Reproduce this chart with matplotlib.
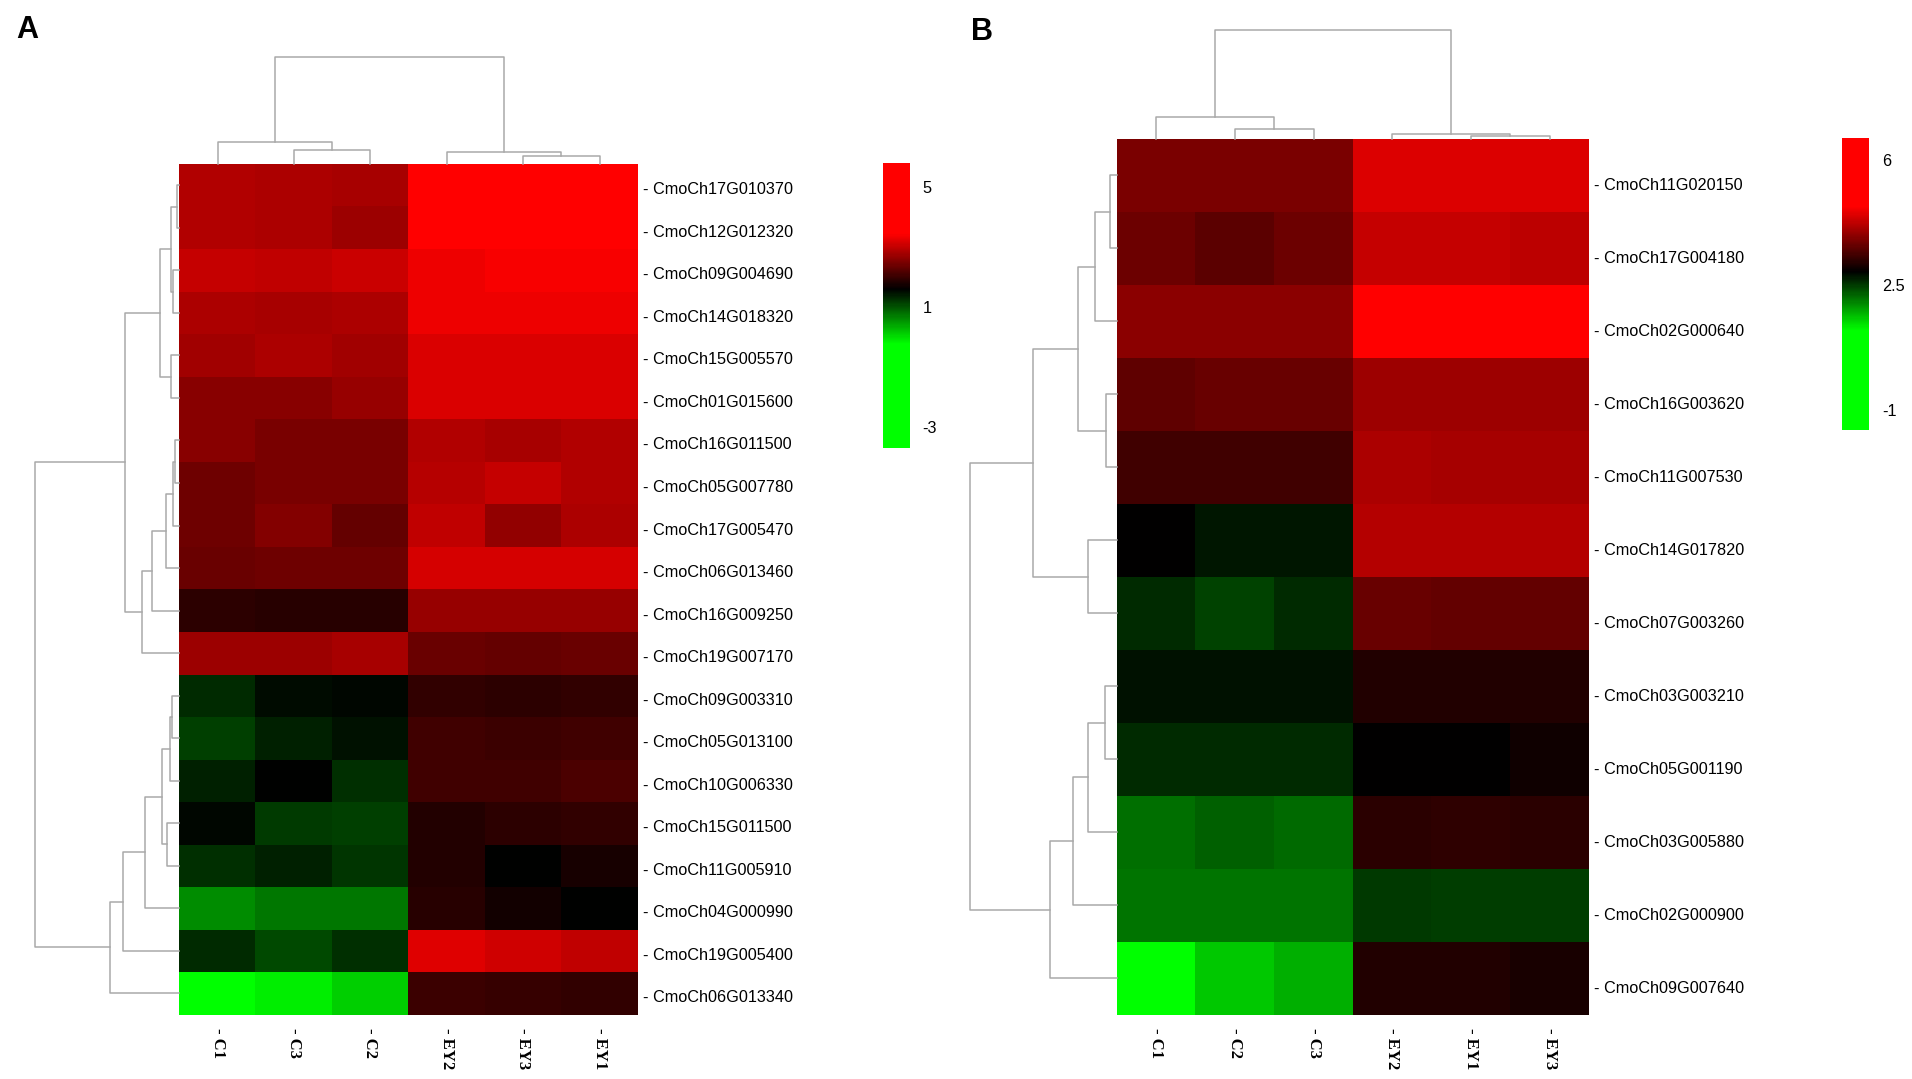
import numpy as np
import matplotlib
matplotlib.use("Agg")
import matplotlib.pyplot as plt
from matplotlib.colors import LinearSegmentedColormap
from matplotlib.transforms import offset_copy

W, H = 1912, 1079

# ---- panel A ----
a_genes = ["CmoCh17G010370", "CmoCh12G012320", "CmoCh09G004690", "CmoCh14G018320",
           "CmoCh15G005570", "CmoCh01G015600", "CmoCh16G011500", "CmoCh05G007780",
           "CmoCh17G005470", "CmoCh06G013460", "CmoCh16G009250", "CmoCh19G007170",
           "CmoCh09G003310", "CmoCh05G013100", "CmoCh10G006330", "CmoCh15G011500",
           "CmoCh11G005910", "CmoCh04G000990", "CmoCh19G005400", "CmoCh06G013340"]
a_samples = ["C1", "C3", "C2", "EY2", "EY3", "EY1"]
a_values = np.array([
    [2.87, 2.83, 2.80, 4.10, 4.00, 3.95],
    [2.87, 2.83, 2.72, 3.90, 3.85, 3.80],
    [3.02, 2.98, 3.05, 3.31, 3.38, 3.38],
    [2.83, 2.80, 2.83, 3.34, 3.34, 3.31],
    [2.76, 2.83, 2.76, 3.16, 3.16, 3.16],
    [2.58, 2.58, 2.69, 3.16, 3.16, 3.16],
    [2.58, 2.47, 2.47, 2.87, 2.80, 2.87],
    [2.40, 2.47, 2.47, 2.91, 3.02, 2.87],
    [2.40, 2.54, 2.33, 2.98, 2.65, 2.83],
    [2.36, 2.40, 2.40, 3.12, 3.12, 3.12],
    [1.93, 1.89, 1.89, 2.69, 2.69, 2.69],
    [2.72, 2.72, 2.80, 2.36, 2.33, 2.36],
    [1.28, 1.53, 1.56, 1.96, 1.93, 1.96],
    [1.13, 1.35, 1.49, 2.07, 2.03, 2.07],
    [1.38, 1.60, 1.24, 2.07, 2.07, 2.14],
    [1.56, 1.17, 1.13, 1.85, 1.93, 1.96],
    [1.24, 1.35, 1.20, 1.85, 1.60, 1.78],
    [0.59, 0.73, 0.73, 1.89, 1.74, 1.60],
    [1.28, 1.06, 1.24, 3.23, 3.09, 2.98],
    [-0.40, -0.13, 0.12, 2.03, 2.00, 1.96],
])
# merges: (child a, child b, height); leaves numbered in display order
a_row_links = [(0, 1, 2.7), (2, 3, 6.7), (20, 21, 8.3), (4, 5, 8.3), (22, 23, 19.0),
               (6, 7, 4.0), (25, 8, 6.7), (26, 9, 13.7), (27, 10, 27.7), (28, 11, 37.0),
               (24, 29, 54.0), (12, 13, 7.3), (31, 14, 9.3), (15, 16, 12.7), (32, 33, 17.7),
               (34, 17, 34.0), (35, 18, 56.3), (36, 19, 69.0), (30, 37, 144.7)]
a_col_links = [(1, 2, 13.8), (0, 6, 22.1), (4, 5, 8.3), (3, 8, 12.1), (7, 9, 107.2)]
a_ticks = [5, 1, -3]
a_range = (-3.68, 5.78)
a_stops = (-0.24, 1.6, 3.45)   # full green, black, full red

# ---- panel B ----
b_genes = ["CmoCh11G020150", "CmoCh17G004180", "CmoCh02G000640", "CmoCh16G003620",
           "CmoCh11G007530", "CmoCh14G017820", "CmoCh07G003260", "CmoCh03G003210",
           "CmoCh05G001190", "CmoCh03G005880", "CmoCh02G000900", "CmoCh09G007640"]
b_samples = ["C1", "C2", "C3", "EY2", "EY1", "EY3"]
b_values = np.array([
    [3.76, 3.76, 3.76, 4.48, 4.48, 4.48],
    [3.68, 3.54, 3.68, 4.30, 4.30, 4.26],
    [3.90, 3.90, 3.90, 5.30, 5.10, 5.40],
    [3.58, 3.65, 3.65, 4.01, 4.01, 4.01],
    [3.36, 3.36, 3.36, 4.12, 4.08, 4.08],
    [2.89, 2.73, 2.73, 4.19, 4.19, 4.19],
    [2.63, 2.47, 2.63, 3.65, 3.61, 3.61],
    [2.76, 2.76, 2.76, 3.14, 3.14, 3.14],
    [2.60, 2.60, 2.60, 2.89, 2.89, 3.00],
    [2.17, 2.27, 2.21, 3.18, 3.21, 3.18],
    [2.14, 2.14, 2.14, 2.53, 2.50, 2.50],
    [0.90, 1.59, 1.75, 3.14, 3.14, 3.07],
])
b_row_links = [(0, 1, 6.7), (12, 2, 21.7), (3, 4, 11.3), (13, 14, 39.0), (5, 6, 28.7),
               (15, 16, 84.0), (7, 8, 12.3), (18, 9, 28.7), (19, 10, 44.0), (20, 11, 67.3),
               (17, 21, 147.3)]
b_col_links = [(1, 2, 10.3), (0, 6, 22.4), (4, 5, 3.4), (3, 8, 5.2), (7, 9, 109.4)]
b_ticks = [6, 2.5, -1]
b_range = (-1.56, 6.63)
b_stops = (1.23, 2.89, 4.73)

LINE = "#a9a9a9"
SANS = ["Liberation Sans", "DejaVu Sans"]
SERIF = ["Liberation Serif", "DejaVu Serif"]

fig = plt.figure(figsize=(W / 100, H / 100), dpi=100)


def box(left, top, right, bottom):
    return fig.add_axes([left / W, 1 - bottom / H, (right - left) / W, (bottom - top) / H])


def make_cmap(vmin, vmax, stops):
    g, k, r = [(s - vmin) / (vmax - vmin) for s in stops]
    return LinearSegmentedColormap.from_list(
        "gkr", [(0, (0, 1, 0)), (g, (0, 1, 0)), (k, (0, 0, 0)), (r, (1, 0, 0)), (1, (1, 0, 0))])


def dendro(ax, links, n, side):
    pos = {i: i + 0.5 for i in range(n)}
    hgt = {i: 0.0 for i in range(n)}
    for k, (a, b, h) in enumerate(links):
        hs = [hgt[a], h, h, hgt[b]]
        ps = [pos[a], pos[a], pos[b], pos[b]]
        if side == "left":
            ax.plot(hs, ps, color=LINE, lw=1.1, clip_on=False)
        else:
            ax.plot(ps, hs, color=LINE, lw=1.1, clip_on=False)
        pos[n + k] = (pos[a] + pos[b]) / 2
        hgt[n + k] = h
    top = links[-1][2]
    if side == "left":
        ax.set_xlim(top, 0)
        ax.set_ylim(n, 0)
    else:
        ax.set_xlim(0, n)
        ax.set_ylim(0, top)
    ax.axis("off")


def panel(values, genes, samples, row_links, col_links, rng, stops, ticks,
          heat, cbar, letter, letter_xy, label_drop, cb_pad):
    l, t, r, b = heat
    cmap = make_cmap(rng[0], rng[1], stops)
    ax = box(l, t, r, b)
    im = ax.imshow(values, cmap=cmap, vmin=rng[0], vmax=rng[1], aspect="auto",
                   interpolation="nearest")
    ax.set_xticks(range(len(samples)))
    ax.set_xticklabels(["- " + s for s in samples], rotation=270, fontsize=12,
                       fontweight="bold", family=SERIF, va="top", ha="center")
    ax.set_yticks([])
    ax.tick_params(length=0)
    ax.tick_params(axis="x", pad=10)
    for s in ax.spines.values():
        s.set_visible(False)

    # gene names to the right of the rows
    trans = offset_copy(ax.get_yaxis_transform(), fig=fig, x=5, y=-label_drop, units="dots")
    for i, g in enumerate(genes):
        ax.text(1, i, "- " + g, transform=trans, ha="left", va="center_baseline",
                fontsize=11.7, family=SANS)

    rmax = row_links[-1][2]
    dendro(box(l - rmax, t, l, b), row_links, len(genes), "left")
    cmax = col_links[-1][2]
    dendro(box(l, t - cmax, r, t), col_links, len(samples), "top")

    cax = box(*cbar)
    cb = fig.colorbar(im, cax=cax, ticks=ticks)
    cb.outline.set_visible(False)
    cb.ax.tick_params(length=0, pad=cb_pad, labelsize=11.7)
    cb.ax.set_yticklabels([("%g" % v) for v in ticks], family=SANS)

    fig.text(letter_xy[0] / W, 1 - letter_xy[1] / H, letter, fontsize=22,
             fontweight="bold", family=SANS, ha="left", va="top")


panel(a_values, a_genes, a_samples, a_row_links, a_col_links, a_range, a_stops, a_ticks,
      (179.3, 164, 637.8, 1014.6), (883, 163.4, 910, 447.6), "A", (16, 15), 3, 9)
panel(b_values, b_genes, b_samples, b_row_links, b_col_links, b_range, b_stops, b_ticks,
      (1117, 139, 1589, 1014.6), (1841.5, 138, 1869.5, 430.5), "B", (971, 17), 8.5, 9)

fig.savefig("out.png", dpi=100, facecolor="white")
